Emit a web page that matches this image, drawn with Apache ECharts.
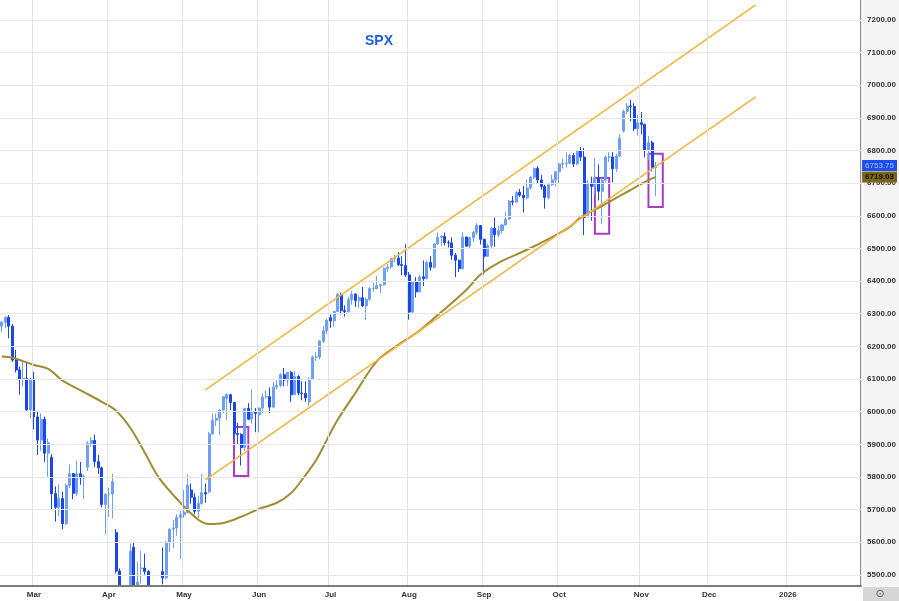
<!DOCTYPE html>
<html><head><meta charset="utf-8">
<script src="https://cdn.jsdelivr.net/npm/echarts@6/dist/echarts.min.js"></script>
<style>html,body{margin:0;padding:0;background:#fff}#c{width:899px;height:601px}</style>
</head><body><div id="c"></div>
<script>
// ---- data ----
const firstDate = '2025-02-18';
const categoryCount = 241;
const lastLabelMonth = '2026-01';
const holidays = ['2025-04-18','2025-05-26','2025-06-19','2025-07-04','2025-09-01','2025-11-27','2025-12-25','2026-01-01','2026-01-19'];
const monthNames = ['Jan','Feb','Mar','Apr','May','Jun','Jul','Aug','Sep','Oct','Nov','Dec'];
const yTicks = [5500,5600,5700,5800,5900,6000,6100,6200,6300,6400,6500,6600,6700,6800,6900,7000,7100,7200];
// [open, close, low, high]
const candles = [
[6262,6274,6245,6278],[6274,6289,6256,6292],[6289,6262,6225,6296],[6262,6158,6152,6268],[6160,6128,6120,6190],
[6128,6100,6052,6138],[6100,6101,6077,6155],[6101,6006,6002,6152],[6006,6100,5980,6103],
[6100,5984,5945,6122],[5984,5913,5867,6000],[5913,5977,5880,5995],[5977,5873,5846,5985],[5873,5905,5801,5918],
[5860,5749,5700,5870],[5749,5707,5663,5771],[5707,5734,5681,5777],[5734,5657,5640,5755],[5657,5774,5652,5780],
[5774,5810,5766,5838],[5810,5750,5732,5812],[5750,5810,5742,5850],[5810,5798,5776,5846],[5798,5802,5732,5808],
[5830,5903,5818,5910],[5903,5912,5893,5921],[5912,5847,5830,5930],[5847,5828,5809,5867],[5828,5716,5707,5832],
[5716,5747,5624,5750],
[5747,5748,5677,5766],[5748,5786,5673,5810],[5630,5512,5505,5640],[5512,5189,5184,5520],[5180,5177,4950,5361],
[5300,5097,5025,5382],[5085,5572,4972,5596],[5585,5383,5230,5598],[5383,5478,5335,5540],[5520,5521,5473,5574],
[5521,5511,5501,5565],[5511,5391,5335,5515],[5391,5398,5370,5443],[5398,5273,5216,5400],[5273,5403,5265,5424],
[5510,5491,5471,5584],[5491,5600,5486,5604],[5600,5640,5570,5643],[5640,5644,5583,5668],[5644,5676,5620,5686],
[5676,5684,5548,5696],
[5684,5692,5675,5760],[5692,5775,5688,5808],[5760,5738,5718,5780],[5738,5695,5685,5750],[5695,5719,5674,5742],
[5719,5752,5715,5808],[5752,5748,5721,5780],[5755,5932,5750,5938],[5932,5974,5928,5994],[5974,5980,5956,5994],
[5980,6005,5928,6008],[6005,6046,5995,6047],[6040,6052,5975,6057],[6052,6028,6005,6055],[6028,5933,5918,6030],
[5933,5930,5898,5966],[5930,5890,5835,5934],[5890,6010,5880,6012],[6010,5977,5974,6026],[5977,6000,5963,6068],
[6000,5995,5937,6011],
[5990,6011,5936,6012],[6011,6045,5996,6056],[6045,6046,6040,6065],[6046,6014,5996,6074],[6014,6075,6010,6092],
[6075,6081,6068,6096],[6081,6113,6075,6118],[6113,6097,6078,6134],[6097,6120,6079,6121],[6120,6052,6030,6125],
[6052,6108,6050,6125],[6108,6057,6050,6112],[6057,6056,6035,6093],[6056,6042,6030,6093],[6030,6100,6018,6105],
[6100,6167,6098,6172],[6167,6167,6155,6183],[6167,6216,6160,6220],[6216,6248,6210,6262],[6248,6280,6238,6285],
[6288,6278,6257,6298],[6278,6307,6260,6309],[6307,6359,6305,6364],[6359,6310,6298,6365],[6310,6306,6291,6326],
[6306,6343,6304,6352],[6343,6360,6328,6370],[6360,6340,6321,6363],[6340,6349,6318,6356],[6349,6324,6321,6382],
[6324,6344,6281,6350],[6344,6377,6340,6382],[6377,6377,6368,6395],[6377,6386,6375,6416],[6386,6389,6363,6392],
[6389,6439,6386,6442],[6439,6443,6428,6452],[6443,6469,6438,6470],[6469,6470,6458,6481],[6470,6451,6446,6489],
[6451,6448,6418,6476],[6448,6419,6413,6513],
[6419,6305,6282,6428],[6305,6398,6300,6401],[6398,6367,6350,6412],[6367,6413,6365,6420],[6413,6408,6385,6463],
[6408,6457,6405,6462],[6457,6442,6432,6477],[6442,6514,6438,6515],[6514,6534,6510,6549],[6534,6537,6508,6541],
[6537,6518,6509,6549],[6518,6517,6503,6525],[6517,6479,6465,6534],[6479,6464,6412,6486],[6464,6438,6428,6466],
[6438,6535,6435,6550],[6535,6507,6505,6536],[6507,6533,6500,6535],[6533,6549,6520,6554],[6549,6570,6540,6577],
[6570,6528,6512,6572],
[6528,6476,6420,6530],[6476,6508,6474,6515],[6508,6562,6500,6565],[6562,6542,6505,6595],[6542,6555,6535,6570],
[6555,6572,6545,6576],[6572,6590,6570,6613],[6590,6645,6588,6648],[6645,6642,6632,6660],[6642,6672,6640,6675],
[6672,6663,6658,6682],[6663,6655,6610,6692],[6655,6685,6650,6710],[6685,6718,6680,6722],[6718,6745,6712,6748],
[6745,6710,6698,6752],[6710,6690,6680,6725],[6690,6656,6622,6695],[6656,6695,6650,6702],[6695,6710,6692,6725],
[6710,6735,6690,6738],
[6735,6758,6700,6762],[6758,6760,6745,6775],[6760,6761,6748,6795],[6761,6785,6758,6790],[6785,6759,6750,6792],
[6759,6799,6755,6802],[6799,6780,6768,6811],[6780,6595,6541,6808],[6600,6700,6595,6710],[6700,6690,6585,6720],
[6690,6716,6665,6777],[6716,6675,6647,6757],[6675,6709,6575,6715],[6709,6780,6705,6785],[6780,6780,6765,6795],
[6780,6744,6703,6795],[6744,6783,6735,6790],[6783,6837,6780,6850],[6860,6920,6855,6925],[6920,6936,6912,6945],
[6936,6935,6890,6955],[6935,6867,6860,6945],[6867,6885,6845,6910],
[6885,6880,6850,6918],[6880,6800,6779,6882],[6800,6824,6770,6845],[6824,6748,6736,6830],[6748,6753.75,6660,6765]
];
const lastPrice = 6753.75;
const maLast = 6719.03;
// moving-average line read at sampled bars: [bar index, value]
const maPoints = [[0,6169],[3,6165],[9,6143],[13,6131],[17,6095],[23,6060],[28,6030],[32,6003],[36,5950],[40,5875],
[44,5797],[50,5721],[55,5669],[58,5656],[62,5659],[67,5678],[72,5702],[77,5721],[81,5751],[84,5791],[88,5852],
[91,5914],[94,5975],[99,6058],[105,6155],[111,6205],[116,6241],[122,6296],[130,6373],[134,6420],[139,6456],
[147,6496],[154,6535],[159,6566],[162,6595],[167,6624],[170,6643],[176,6679],[180,6704],[183,6719.03]];
const upperChannel = [['2025-05-09',6067],['2025-12-18',7246]];
const lowerChannel = [['2025-05-09',5791],['2025-12-18',6964]];
// highlight boxes: [from date, to date, top, bottom]
const boxes = [['2025-05-21','2025-05-28',5953,5803],['2025-10-15','2025-10-21',6716,6545],['2025-11-05','2025-11-11',6790,6627]];

// ---- categories: trading days ----
const cats = [];
{
  const p = firstDate.split('-').map(Number);
  const d = new Date(Date.UTC(p[0], p[1]-1, p[2]));
  while (cats.length < categoryCount) {
    const s = d.toISOString().slice(0,10), w = d.getUTCDay();
    if (w !== 0 && w !== 6 && holidays.indexOf(s) < 0) cats.push(s);
    d.setUTCDate(d.getUTCDate()+1);
  }
}
const monthStart = new Set();
cats.forEach((c,i)=>{ if (i>0 && c.slice(5,7)!==cats[i-1].slice(5,7) && c.slice(0,7)<=lastLabelMonth) monthStart.add(i); });

const chart = echarts.init(document.getElementById('c'), null, {renderer:'canvas'});
const UP='#6f9ff4', DOWN='#1b46e8';
const priceLabel = (bg, fg, bold) => ({show:true,position:'end',distance:1,backgroundColor:bg,color:fg,fontSize:8,
  fontWeight:bold?'bold':'normal',fontFamily:'Liberation Sans',padding:[2,3,1,3]});
chart.setOption({
  animation:false,
  backgroundColor:'#ffffff',
  grid:{left:0,right:37,top:0,bottom:15,containLabel:false},
  xAxis:{type:'category',data:cats,boundaryGap:true,z:10,
    axisLine:{lineStyle:{color:'#7c7c7c',width:2}},
    axisTick:{show:false},
    axisLabel:{interval:(i)=>monthStart.has(i),
      formatter:(v)=>{const m=+v.slice(5,7);return m===1?v.slice(0,4):monthNames[m-1];},
      fontSize:8,fontWeight:'bold',color:'#333',margin:5,fontFamily:'Liberation Sans'},
    splitLine:{show:true,interval:(i)=>monthStart.has(i),lineStyle:{color:'#e4e4e4',width:1}}},
  yAxis:{type:'value',position:'right',min:5466,max:7261,scale:true,
    axisLine:{show:true,lineStyle:{color:'#8e8e8e',width:2}},
    axisTick:{show:false,customValues:yTicks},
    axisLabel:{customValues:yTicks,formatter:(v)=>v.toFixed(2),fontSize:8,fontWeight:'bold',color:'#333',margin:6,fontFamily:'Liberation Sans'},
    splitLine:{show:false}},
  graphic:[
    {type:'rect',z:-100,shape:{x:863,y:0,width:36,height:586},style:{fill:'#f4f4f4'}},
    {type:'rect',z:8,shape:{x:0,y:586,width:863,height:15},style:{fill:'#ffffff'}},
    {type:'rect',z:8,shape:{x:863,y:587,width:36,height:14},style:{fill:'#d6d6d6'}},
    {type:'text',z:11,x:880,y:594,style:{text:'\u2299',fill:'#555',font:'11px DejaVu Sans',align:'center',verticalAlign:'middle'}},
    {type:'text',z:11,x:379,y:41,style:{text:'SPX',fill:'#1f5fdc',font:'bold 14px Liberation Sans',align:'center',verticalAlign:'middle'}}
  ],
  series:[
    {type:'line',name:'grid',data:[],z:1,silent:true,
      markLine:{silent:true,symbol:'none',label:{show:false},lineStyle:{color:'#e6e6e6',width:1,type:'solid'},
        data:yTicks.map(v=>({yAxis:v}))}},
    {type:'candlestick',name:'SPX',data:candles,barWidth:'70%',z:3,clip:true,
      itemStyle:{color:UP,color0:DOWN,borderColor:UP,borderColor0:DOWN,borderWidth:1},
      markArea:{silent:true,itemStyle:{color:'rgba(0,0,0,0)',borderColor:'#a83cc6',borderWidth:2},
        data:boxes.map(b=>[{xAxis:b[0],yAxis:b[2]},{xAxis:b[1],yAxis:b[3]}])}},
    {type:'line',name:'MA',data:maPoints,symbol:'none',smooth:0.35,z:4,
      lineStyle:{color:'#a08c32',width:2}},
    {type:'line',name:'upper',data:upperChannel,symbol:'none',z:5,lineStyle:{color:'#f2b53c',width:1.5}},
    {type:'line',name:'lower',data:lowerChannel,symbol:'none',z:5,lineStyle:{color:'#f2b53c',width:1.5}},
    {type:'line',name:'labels',data:[],z:6,silent:true,
      markLine:{silent:true,symbol:'none',lineStyle:{color:'rgba(0,0,0,0)',width:1,type:'solid'},
        data:[
          {yAxis:maLast,label:Object.assign(priceLabel('#7a6614','#111',true),{formatter:maLast.toFixed(2)})},
          {yAxis:lastPrice,label:Object.assign(priceLabel('#1d4df2','#a9c6ff',false),{formatter:lastPrice.toFixed(2)})}
        ]}}
  ]
});
</script></body></html>
